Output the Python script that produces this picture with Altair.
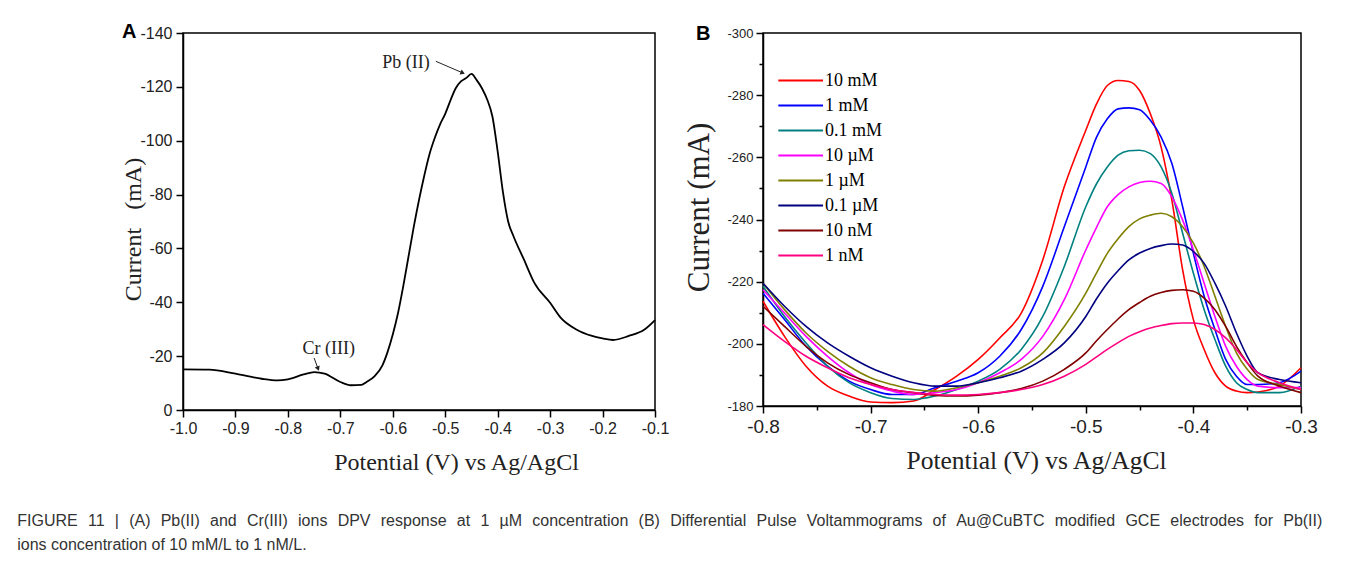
import altair as alt
import pandas as pd

# ---------------- Panel A data ----------------
a_potential = [-1.0, -0.95, -0.9, -0.85, -0.82, -0.8, -0.77, -0.75, -0.73, -0.7, -0.68, -0.66,
               -0.65, -0.635, -0.62, -0.61, -0.6, -0.59, -0.58, -0.57, -0.56, -0.55, -0.54, -0.53,
               -0.52, -0.51, -0.5, -0.49, -0.48, -0.47, -0.46, -0.45, -0.44, -0.43, -0.42, -0.41,
               -0.4, -0.39, -0.38, -0.37, -0.35, -0.33, -0.3, -0.28, -0.25, -0.22, -0.2, -0.18,
               -0.15, -0.12, -0.1]
a_current = [-15.1, -15.0, -13.5, -11.6, -11.0, -11.4, -13.2, -14.1, -13.5, -10.4, -9.2, -9.3,
             -10.4, -12.5, -16.5, -21.5, -28.0, -36.0, -46.0, -57.0, -68.0, -78.0, -87.0, -95.0,
             -101.0, -106.0, -110.0, -115.0, -119.5, -122.0, -123.3, -124.8, -122.5, -119.5, -115.3, -109.0,
             -96.0, -81.0, -70.0, -64.6, -55.9, -47.2, -39.8, -34.3, -29.9, -27.5, -26.6, -26.0,
             -27.5, -29.9, -33.4]

ann_text = ["Pb (II)", "Cr (III)"]
ann_x = [-0.575, -0.722]
ann_y = [-129.0, -22.8]
arrow_x1 = [-0.518, -0.750]
arrow_y1 = [-129.5, -19.3]
arrow_x2 = [-0.468, -0.743]
arrow_y2 = [-125.3, -15.6]

# ---------------- Panel B data ----------------
b_potential = [-0.80, -0.78, -0.76, -0.74, -0.72, -0.70, -0.68, -0.66, -0.64, -0.62, -0.60, -0.58,
               -0.56, -0.54, -0.52, -0.50, -0.49, -0.48, -0.47, -0.46, -0.45, -0.44, -0.43, -0.42,
               -0.41, -0.40, -0.39, -0.38, -0.37, -0.36, -0.35, -0.34, -0.32, -0.30]
b_labels = ["10 mM", "1 mM", "0.1 mM", "10 µM", "1 µM", "0.1 µM", "10 nM", "1 nM"]
b_colors = ["#ff0000", "#0000ff", "#008080", "#ff00ff", "#808000", "#000080", "#800000", "#ff0080"]

b_10mM = [213.7, 202.4, 192.8, 186.4, 183.2, 181.3, 181.1, 181.6, 185.3, 189.6, 195.0, 201.9,
          209.9, 227.0, 250.5, 268.7, 277.2, 283.1, 284.7, 284.4, 281.5, 274.0, 263.3, 246.2,
          223.8, 207.8, 198.2, 190.7, 186.4, 184.8, 184.3, 184.5, 186.4, 192.3]
b_1mM = [216.3, 207.8, 199.2, 192.8, 188.0, 185.3, 183.7, 183.7, 185.9, 188.0, 190.7, 196.0,
         204.6, 218.5, 237.7, 256.9, 266.5, 272.4, 275.6, 275.9, 275.3, 271.9, 266.5, 258.0,
         244.1, 229.1, 215.3, 204.6, 195.0, 189.6, 186.9, 186.9, 187.5, 191.2]
b_01mM = [218.5, 208.8, 200.3, 192.8, 187.5, 184.3, 182.4, 182.1, 183.2, 185.3, 188.0, 191.8,
          198.2, 208.8, 224.9, 244.1, 251.5, 256.9, 260.7, 262.1, 262.3, 261.2, 256.9, 248.4,
          235.6, 222.7, 211.0, 201.4, 192.8, 187.5, 185.3, 184.3, 184.3, 186.4]
b_10uM = [217.4, 209.9, 202.4, 196.0, 190.7, 186.9, 184.8, 183.7, 184.3, 185.3, 187.5, 190.7,
          195.0, 202.4, 214.2, 230.2, 237.5, 244.1, 248.0, 250.5, 251.9, 252.3, 251.6, 247.3,
          239.8, 230.2, 219.5, 208.8, 199.2, 192.8, 188.5, 186.4, 185.9, 185.9]
b_1uM = [219.5, 211.0, 203.5, 197.6, 192.8, 189.1, 186.9, 185.3, 184.8, 185.9, 187.5, 189.6,
         192.3, 197.1, 205.6, 216.3, 222.8, 229.1, 233.8, 237.7, 240.2, 241.4, 242.0, 240.9,
         237.7, 232.4, 224.9, 215.3, 205.6, 197.1, 191.8, 188.5, 186.9, 185.3]
b_01uM = [219.5, 212.1, 205.6, 200.3, 196.0, 192.3, 189.6, 187.5, 186.4, 186.4, 187.5, 189.1,
          191.2, 195.0, 200.3, 208.8, 214.5, 219.5, 223.5, 227.0, 229.2, 230.7, 231.6, 232.1,
          231.8, 229.7, 225.9, 219.5, 212.1, 203.5, 196.0, 190.7, 188.5, 187.5]
b_10nM = [212.1, 205.6, 199.2, 193.9, 190.1, 187.5, 185.3, 184.3, 183.4, 183.2, 183.5, 184.3,
          185.6, 188.0, 191.8, 197.1, 201.0, 204.6, 208.0, 211.0, 213.3, 215.3, 216.5, 217.2,
          217.4, 216.9, 214.7, 211.0, 205.6, 199.2, 193.9, 189.6, 186.4, 184.3]
b_1nM = [206.2, 200.8, 196.0, 192.3, 189.1, 186.9, 185.3, 184.3, 183.7, 183.5, 183.7, 184.3,
         185.3, 186.9, 189.6, 193.4, 195.8, 198.2, 200.4, 202.4, 203.9, 205.1, 205.9, 206.5,
         206.7, 206.7, 206.2, 204.6, 201.9, 198.2, 193.9, 190.7, 187.5, 185.3]
b_series = [b_10mM, b_1mM, b_01mM, b_10uM, b_1uM, b_01uM, b_10nM, b_1nM]

caption_words = ["FIGURE", "11", "|", "(A)", "Pb(II)", "and", "Cr(III)", "ions", "DPV", "response",
                 "at", "1", "µM", "concentration", "(B)", "Differential", "Pulse",
                 "Voltammograms", "of", "Au@CuBTC", "modified", "GCE", "electrodes", "for", "Pb(II)"]
caption_line2 = "ions concentration of 10 mM/L to 1 nM/L."

# ---------------- tables ----------------
df_a = pd.DataFrame({"potential": a_potential, "current": a_current})
df_ann = pd.DataFrame({"text": ann_text, "x": ann_x, "y": ann_y})
df_arrow = pd.DataFrame({"x1": arrow_x1, "y1": arrow_y1, "x2": arrow_x2, "y2": arrow_y2})
rows = []
for lab, vals in zip(b_labels, b_series):
    for p, v in zip(b_potential, vals):
        rows.append({"potential": p, "current": -v, "conc": lab})
df_b = pd.DataFrame(rows)

SANS = "Liberation Sans"
SERIF = "Liberation Serif"
NBSP = "\u00a0"
# justified first caption line (wider word gaps)
caption_lines = [(NBSP + NBSP + "\u200a").join(caption_words), caption_line2]

x_major = "abs(datum.value*10 - round(datum.value*10)) < 0.001"
y_major = "abs(datum.value % 20) < 0.001"
x_label = "abs(datum.value*10 - round(datum.value*10)) < 0.001 ? replace(format(datum.value, '.1f'), '\u2212', '-') : ''"
y_label = "abs(datum.value % 20) < 0.001 ? replace(format(datum.value, 'd'), '\u2212', '-') : ''"

a_xticks = [round(-1.0 + 0.05 * i, 2) for i in range(19)]
a_yticks = [-10 * i for i in range(15)]
b_xticks = [round(-0.8 + 0.05 * i, 2) for i in range(11)]
b_yticks = [-180 - 10 * i for i in range(13)]


def axis(values, major, label, lsize, title, tsize, tx, ty, angle=0, pad=3):
    kw = dict(values=values, labelExpr=label,
              tickSize={"condition": {"test": major, "value": 7}, "value": 4},
              labelFontSize=lsize, labelPadding=pad, labelFlush=False, title=title,
              titleFontSize=tsize, titleX=tx, titleY=ty, titleBaseline="middle",
              titleAlign="center", labelOverlap=False)
    if angle:
        kw["titleAngle"] = angle
    return alt.Axis(**kw)


def letter(txt, dx):
    return alt.TitleParams(txt, anchor="start", frame="group", orient="top", offset=0,
                           baseline="middle", dx=dx, dy=27, font=SANS, fontSize=20,
                           fontWeight="bold", color="black")


# ---------------- Panel A ----------------
xa = alt.Scale(domain=[-1.0, -0.1], nice=False, zero=False)
ya = alt.Scale(domain=[-140, 0], nice=False, reverse=True)

line_a = alt.Chart(df_a).mark_line(color="black", strokeWidth=1.8, interpolate="monotone").encode(
    x=alt.X("potential:Q", scale=xa,
            axis=axis(a_xticks, x_major, x_label, 16, "Potential (V) vs Ag/AgCl", 24, 273, 52)),
    y=alt.Y("current:Q", scale=ya,
            axis=axis(a_yticks, y_major, y_label, 16, "Current" + NBSP * 3 + "(mA)", 24, -50, 196, 270, 4)),
)
ann_a = alt.Chart(df_ann).mark_text(font=SERIF, fontSize=18, color="#222").encode(
    x=alt.X("x:Q", scale=xa), y=alt.Y("y:Q", scale=ya), text="text:N")
rule_a = alt.Chart(df_arrow).mark_rule(color="#222", strokeWidth=1).encode(
    x=alt.X("x1:Q", scale=xa), y=alt.Y("y1:Q", scale=ya), x2="x2:Q", y2="y2:Q")
head_pb = alt.Chart(df_arrow.iloc[[0]]).mark_point(shape="triangle", filled=True, size=28,
                                                   color="#222", opacity=1, angle=114).encode(
    x=alt.X("x2:Q", scale=xa), y=alt.Y("y2:Q", scale=ya))
head_cr = alt.Chart(df_arrow.iloc[[1]]).mark_point(shape="triangle", filled=True, size=28,
                                                   color="#222", opacity=1, angle=158).encode(
    x=alt.X("x2:Q", scale=xa), y=alt.Y("y2:Q", scale=ya))

panel_a = alt.layer(line_a, rule_a, head_pb, head_cr, ann_a).properties(
    width=472, height=377, title=letter("A", -61))

# ---------------- Panel B ----------------
xb = alt.Scale(domain=[-0.8, -0.3], nice=False, zero=False)
yb = alt.Scale(domain=[-300, -180], nice=False, reverse=True, zero=False)

panel_b = alt.Chart(df_b).mark_line(strokeWidth=1.6, interpolate="monotone").encode(
    x=alt.X("potential:Q", scale=xb,
            axis=axis(b_xticks, x_major, x_label, 19, "Potential (V) vs Ag/AgCl", 25.5, 273, 54, 0, 4)),
    y=alt.Y("current:Q", scale=yb,
            axis=axis(b_yticks, y_major, y_label, 13, "Current" + NBSP + "(mA)", 31, -64, 174, 270, 3)),
    color=alt.Color("conc:N", sort=b_labels,
                    scale=alt.Scale(domain=b_labels, range=b_colors),
                    legend=alt.Legend(orient="none", legendX=14, legendY=35, title=None,
                                      symbolType="M-1,0H3", symbolSize=500, symbolStrokeWidth=2,
                                      symbolFillColor="transparent",
                                      labelFont=SERIF, labelFontSize=18, labelColor="black",
                                      rowPadding=3, padding=0, labelOffset=23)),
).properties(width=538, height=373, title=letter("B", -67))

chart = alt.hconcat(panel_a, panel_b, spacing=12).resolve_legend(color="independent").properties(
    padding={"left": 9, "top": 13, "right": 5, "bottom": 0},
    title=alt.TitleParams(caption_lines, orient="bottom", anchor="start", frame="bounds",
                          offset=38, dx=-103, font=SANS, fontSize=16, fontWeight="normal",
                          color="#333", lineHeight=24),
).configure_view(stroke="black", strokeWidth=1.5).configure_axis(
    grid=False, domainColor="black", domainWidth=1.5, tickColor="black", tickWidth=1.5,
    labelColor="#222", titleColor="#222", labelFont=SANS, titleFont=SERIF,
    titleFontWeight="normal",
)

chart.save("out.html", embed_options={"renderer": "svg", "actions": False})
